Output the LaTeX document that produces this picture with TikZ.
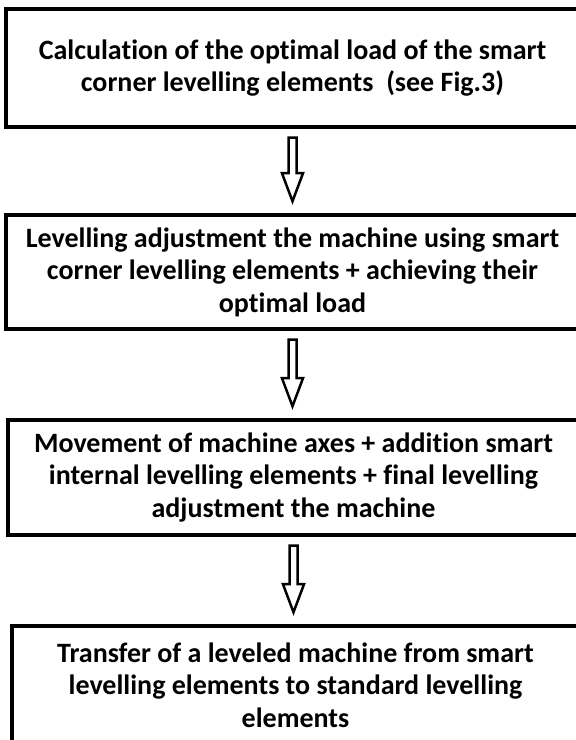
\documentclass[tikz,border=0pt]{standalone}
\usepackage{fontspec}
\setmainfont{Carlito}[Ligatures={NoCommon}]
\usetikzlibrary{calc}

\tikzset{
    stepbox/.style={draw, line width=3.5pt, align=center, inner sep=0pt,
        font=\bfseries\fontsize{28}{32.5}\selectfont},
    hollow/.style={line width=2.5pt, line join=miter, to path={
        let \p1=(\tikztostart), \p2=(\tikztotarget) in
        (\x1-4pt,\y1-9pt) -- (\x1+4pt,\y1-9pt) -- (\x1+4pt,\y2+40pt)
        -- (\x1+10.5pt,\y2+40pt) -- (\x1,\y2+12pt) -- (\x1-10.5pt,\y2+40pt)
        -- (\x1-4pt,\y2+40pt) -- cycle}}
}

\begin{document}
\begin{tikzpicture}[x=1pt, y=1pt]

    % Frame
    \useasboundingbox (0,0) rectangle (576,740);
    \clip (0,0) rectangle (576,740);

    % Steps
    \node[stepbox, minimum width=573pt, minimum height=118pt] (step1) at (292.5,672)
        {Calculation of the optimal load of the smart\\corner levelling elements\ \ (see Fig.3)};
    \node[stepbox, minimum width=573pt, minimum height=114pt] (step2) at (292.5,468)
        {Levelling adjustment the machine using smart\\corner levelling elements + achieving their\\optimal load};
    \node[stepbox, minimum width=571pt, minimum height=115pt] (step3) at (293.5,262.5)
        {Movement of machine axes + addition smart\\internal levelling elements + final levelling\\adjustment the machine};
    \node[stepbox, minimum width=567pt, minimum height=118pt] (step4) at (295.5,55)
        {Transfer of a leveled machine from smart\\levelling elements to standard levelling\\elements};

    % Arrows
    \draw[hollow] (step1.south) to (step2.north);
    \draw[hollow] (step2.south) to (step3.north);
    \draw[hollow] (step3.south) to (step4.north);

\end{tikzpicture}
\end{document}
